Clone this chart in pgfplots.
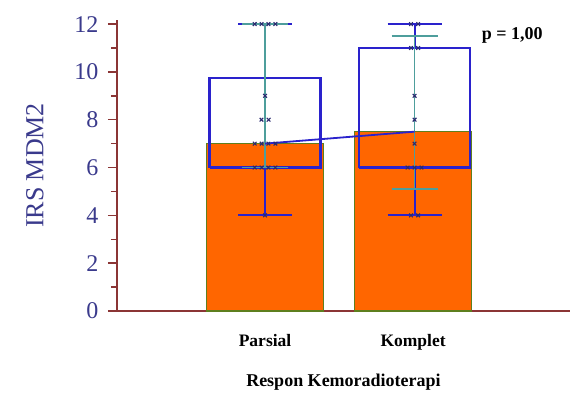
\documentclass[border=0pt]{standalone}
\usepackage{pgfplots}
\pgfplotsset{compat=1.18}
\usepackage{fontspec}
\setmainfont{Liberation Serif}
\definecolor{barorange}{HTML}{FF6600}
\definecolor{baredge}{HTML}{5E7F1E}
\definecolor{boxblue}{HTML}{2A22CC}
\definecolor{tealc}{HTML}{4E9E9C}
\definecolor{markblue}{HTML}{2B2B70}
\definecolor{axisred}{HTML}{8B3535}
\definecolor{ticklab}{HTML}{3A3A8C}
\begin{document}
\begin{tikzpicture}
\path[use as bounding box] (-117pt,-81pt) rectangle (453pt,311pt);
\begin{axis}[
  scale only axis, width=453pt, height=291pt,
  xmin=0, xmax=3.06, ymin=0, ymax=12.17,
  axis x line=bottom, axis y line=left,
  axis line style={-, axisred, line width=1.6pt},
  xtick={1,2}, xticklabels={Parsial,Komplet},
  xtick style={draw=none},
  xticklabel style={font=\fontsize{17.5}{17.5}\selectfont\bfseries, anchor=base, yshift=-26pt},
  ytick={0,2,...,12}, minor ytick={1,3,...,11},
  tick align=outside, major tick length=9pt, minor tick length=6pt,
  ytick style={axisred, line width=1.5pt},
  minor tick style={axisred, line width=1.5pt},
  yticklabel style={font=\fontsize{24}{24}\selectfont, text=ticklab, xshift=-6pt},
  /pgf/number format/assume math mode=true,
  ylabel={IRS MDM2},
  ylabel style={font=\fontsize{26}{26}\selectfont, text=ticklab, at={(axis description cs:0,0.5)}, anchor=center, yshift=82pt},
  xlabel={Respon Kemoradioterapi},
  xlabel style={font=\fontsize{18}{18}\selectfont\bfseries, at={(axis description cs:0.5,0)}, anchor=center, yshift=-71pt},
  clip=false,
]
% bars (means)
\addplot[ybar, bar width=0.79, fill=barorange, draw=baredge, line width=1.6pt] coordinates {(1,7) (2,7.5)};
% boxes
\addplot[boxblue, line width=2.2pt] coordinates {(0.625,6) (1.375,6) (1.375,9.75) (0.625,9.75) (0.625,6)};
\addplot[boxblue, line width=2.2pt] coordinates {(1.635,6) (2.385,6) (2.385,11) (1.635,11) (1.635,6)};
% whiskers
\addplot[boxblue, line width=2pt] coordinates {(1,4) (1,6)};
\addplot[boxblue, line width=2pt] coordinates {(1,9.75) (1,12)};
\addplot[boxblue, line width=2pt] coordinates {(0.818,4) (1.182,4)};
\addplot[boxblue, line width=2pt] coordinates {(0.818,12) (1.182,12)};
\addplot[boxblue, line width=2pt] coordinates {(2.01,4) (2.01,6)};
\addplot[boxblue, line width=2pt] coordinates {(2.01,11) (2.01,12)};
\addplot[boxblue, line width=2pt] coordinates {(1.828,4) (2.192,4)};
\addplot[boxblue, line width=2pt] coordinates {(1.828,12) (2.192,12)};
% mean +- SD (teal)
\addplot[tealc, line width=1.8pt] coordinates {(1,6) (1,12)};
\addplot[tealc, line width=1.8pt] coordinates {(0.845,6) (1.155,6)};
\addplot[tealc, line width=1.8pt] coordinates {(0.845,12) (1.155,12)};
\addplot[tealc, line width=1.8pt] coordinates {(2.01,5.1) (2.01,11.5)};
\addplot[tealc, line width=1.8pt] coordinates {(1.855,5.1) (2.165,5.1)};
\addplot[tealc, line width=1.8pt] coordinates {(1.855,11.5) (2.165,11.5)};
% median line
\addplot[boxblue, line width=1.8pt] coordinates {(1,7) (2.01,7.5)};
% data points
\addplot[only marks, mark=x, mark size=2.6pt, markblue, line width=1.1pt] coordinates {
 (0.93,12) (0.977,12) (1.023,12) (1.07,12)
 (1,9)
 (0.976,8) (1.024,8)
 (0.93,7) (0.977,7) (1.023,7) (1.07,7)
 (0.93,6) (0.977,6) (1.023,6) (1.07,6)
 (1,4)
 (1.986,12) (2.034,12)
 (1.986,11) (2.034,11)
 (2.01,9) (2.01,8) (2.01,7)
 (1.963,6) (2.01,6) (2.057,6)
 (1.986,4) (2.034,4)
};
\node[font=\fontsize{18}{18}\selectfont\bfseries, anchor=center] at (axis cs:2.67,11.54) {p = 1,00};
\end{axis}
\end{tikzpicture}
\end{document}
